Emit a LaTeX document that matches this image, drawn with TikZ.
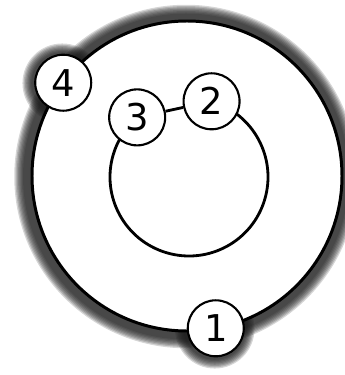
\documentclass[tikz,border=0pt]{standalone}
\usepackage{fontspec}
\setmainfont{DejaVu Sans}
\usetikzlibrary{calc}
\usepackage{tkz-euclide}
\definecolor{GlowClr}{rgb}{0.1,0.1,0.1}

\tikzset{
  ringnode/.style={circle,draw=black,fill=white,line width=1.2pt,
    minimum size=1.12cm,inner sep=0pt,font=\fontsize{21}{21}\selectfont},
  glow/.style={fill=GlowClr,opacity=0.18}
}

\begin{document}
\begin{tikzpicture}
\useasboundingbox (0,0) rectangle (6.9,7.5);

\tkzDefPoints{3.74/3.98/O,3.78/3.96/I}
\coordinate (P4) at ($(O)+(143:3.1)$);
\coordinate (P1) at ($(O)+(-79.3:3.1)$);
\coordinate (P3) at ($(I)+(131:1.58)$);
\coordinate (P2) at ($(I)+(73.4:1.58)$);

% soft dark shadow round the big ring
\foreach \k in {0,...,7}{
  \fill[glow] ($(O)+(-0.02,-0.01)$) circle ({3.26+0.025*\k});
  \fill[glow] ($(P4)+(-0.02,-0.01)$) circle ({0.62+0.025*\k});
  \fill[glow] ($(P1)+(-0.02,-0.01)$) circle ({0.62+0.025*\k});
}

\draw[line width=1.7pt,fill=white] (O) circle (3.1);

\draw[line width=1.6pt] (P2) arc[start angle=73.4,end angle=-229,radius=1.58];

\node[ringnode] (n4) at (P4) {4};
\node[ringnode] (n1) at (P1) {1};
\node[ringnode] (n3) at (P3) {3};
\node[ringnode] (n2) at (P2) {2};

\draw[line width=1.6pt] (n3) -- (n2);

\end{tikzpicture}
\end{document}
